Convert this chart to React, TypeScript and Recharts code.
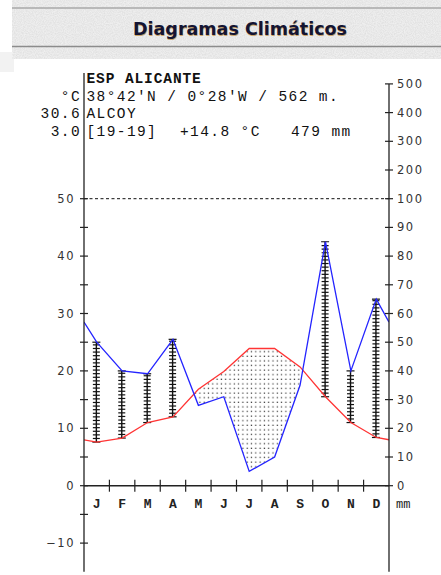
import React from 'react';
import { ComposedChart, Area, Line, Bar, Scatter, XAxis, YAxis, ReferenceLine } from 'recharts';

// Climate normals, Alcoy (Alicante)
const months = ['J', 'F', 'M', 'A', 'M', 'J', 'J', 'A', 'S', 'O', 'N', 'D'];
const temps = [7.6, 8.3, 11.0, 12.0, 16.8, 19.9, 23.9, 23.9, 20.7, 15.5, 11.0, 8.4];
const precip = [50, 40, 39, 51, 28, 31, 5, 10, 35, 85, 40, 65];
// values read where the curves meet the axes (Dec -> Jan wrap)
const edgeTemp = 8.0;
const edgePrecip = 57;

const leftTicks = [-10, -5, 0, 5, 10, 15, 20, 25, 30, 35, 40, 45, 50];
const rightTicks = [0, 5, 10, 15, 20, 25, 30, 35, 40, 45, 50, 55, 60, 65, 70];
const rightLabels = ['0', '10', '20', '30', '40', '50', '60', '70', '80', '90', '100', '200', '300', '400', '500'];
const monthBounds = [1, 2, 3, 4, 5, 6, 7, 8, 9, 10, 11];

const W = 441;
const H = 575;
const PLOT_LEFT = 84;
const PLOT_RIGHT = 389;
const PLOT_TOP = 83.9;
const PLOT_BOTTOM = 571.8;
const AXIS_W = 40;

const axisFont = { fontFamily: '"DejaVu Sans", Verdana, sans-serif', fontSize: 11.5, letterSpacing: 1.5, fill: '#333' };
const monoFont = '"Liberation Mono", "DejaVu Sans Mono", monospace';

// precipitation plotted at 2 mm = 1 °C
const table = [
  { x: 0, t: edgeTemp, p: edgePrecip / 2, humid: false },
  ...months.map((m, i) => ({ x: i + 0.5, t: temps[i], p: precip[i] / 2, humid: precip[i] / 2 > temps[i] })),
  { x: 12, t: edgeTemp, p: edgePrecip / 2, humid: false },
];

const monthPoints = months.map((m, i) => ({ x: i + 0.5, y: 0, label: m }));
const boundPoints = monthBounds.map(b => ({ x: b, y: 0 }));

const LeftTick = (props: any) => {
  const { y, payload } = props;
  const v = payload.value;
  return (
    <g>
      <line x1={PLOT_LEFT - 4} x2={PLOT_LEFT + 4} y1={y} y2={y} stroke="#222" strokeWidth={1.2} />
      {v % 10 === 0 && (
        <text x={PLOT_LEFT - 9} y={y} textAnchor="end" dominantBaseline="central" {...axisFont}>
          {v < 0 ? `\u2212${Math.abs(v)}` : v}
        </text>
      )}
    </g>
  );
};

const RightTick = (props: any) => {
  const { y, payload, index } = props;
  return (
    <g>
      <line x1={PLOT_RIGHT - 4} x2={PLOT_RIGHT + 4} y1={y} y2={y} stroke="#222" strokeWidth={1.2} />
      <text x={PLOT_RIGHT + 8} y={y} textAnchor="start" dominantBaseline="central" {...axisFont}>
        {rightLabels[index] ?? payload.value}
      </text>
    </g>
  );
};

const Ladder = (props: any) => {
  const { x, y, width, height } = props;
  if (height == null || Math.abs(height) < 1) return null;
  const cx = x + width / 2;
  const top = Math.min(y, y + height);
  const bottom = Math.max(y, y + height);
  const rungs = [];
  for (let yy = bottom - 3.6; yy > top + 1.5; yy -= 3.6) {
    rungs.push(<line key={yy} x1={cx - 3.5} x2={cx + 3.5} y1={yy} y2={yy} stroke="#111" strokeWidth={1.2} />);
  }
  return (
    <g>
      <line x1={cx} x2={cx} y1={top} y2={bottom} stroke="#111" strokeWidth={1.4} />
      <line x1={cx - 4} x2={cx + 4} y1={top} y2={top} stroke="#111" strokeWidth={1.2} />
      <line x1={cx - 4} x2={cx + 4} y1={bottom} y2={bottom} stroke="#111" strokeWidth={1.2} />
      {rungs}
    </g>
  );
};

const MonthLabel = (props: any) => {
  const { cx, cy, payload } = props;
  return (
    <text x={cx} y={cy + 22} textAnchor="middle" fontFamily={monoFont} fontSize={13} fontWeight={600} fill="#222">
      {payload.label}
    </text>
  );
};

const MonthBound = (props: any) => {
  const { cx, cy } = props;
  return <line x1={cx} x2={cx} y1={cy - 6} y2={cy + 6} stroke="#222" strokeWidth={1.2} />;
};

export default function App() {
  return (
    <div style={{ position: 'absolute', left: 0, top: 0, width: W, height: H, background: '#fff', overflow: 'hidden' }}>
      <svg width={W} height={H} style={{ position: 'absolute', left: 0, top: 0 }}>
        <defs>
          <filter id="grain" x="0" y="0" width="100%" height="100%">
            <feTurbulence type="fractalNoise" baseFrequency="0.9" numOctaves="2" seed="3" />
            <feColorMatrix type="matrix" values="0 0 0 0 0.55  0 0 0 0 0.55  0 0 0 0 0.55  0 0 0 -1.2 0.9" />
            <feComposite in2="SourceGraphic" operator="in" />
          </filter>
          <pattern id="dots" width="4.3" height="4.6" patternUnits="userSpaceOnUse">
            <rect x="1.5" y="1.5" width="1.2" height="1.2" fill="#333" />
          </pattern>
        </defs>
        <rect x={12} y={0} width={W - 12} height={59} fill="#efefef" />
        <rect x={0} y={52} width={14} height={20} fill="#f2f2f2" />
        <rect x={12} y={0} width={W - 12} height={59} fill="#fff" filter="url(#grain)" opacity={0.5} />
        <line x1={12} x2={W} y1={8} y2={8} stroke="#a8a8a8" strokeWidth={1.5} />
        <line x1={12} x2={W} y1={46.5} y2={46.5} stroke="#8c8c8c" strokeWidth={1.5} />
        <text x={240.5} y={35.5} textAnchor="middle" fontFamily='"DejaVu Sans", Verdana, sans-serif' fontWeight="bold" fontSize={17.5} fill="#c9a46a">
          Diagramas Climáticos
        </text>
        <text x={240} y={35} textAnchor="middle" fontFamily='"DejaVu Sans", Verdana, sans-serif' fontWeight="bold" fontSize={17.5} fill="#141433">
          Diagramas Climáticos
        </text>

        <rect x={14} y={59} width={W - 14} height={H - 59} fill="#fff" />
        <line x1={PLOT_LEFT} x2={PLOT_LEFT} y1={73} y2={PLOT_TOP} stroke="#222" strokeWidth={1.3} />
        <g fontFamily={monoFont} fontSize={14.5} fill="#111">
          <text x={86.5} y={83} fontWeight="bold" letterSpacing={0.9}>ESP ALICANTE</text>
          <text x={86.5} y={100.5} letterSpacing={1.4}>38°42'N / 0°28'W / 562 m.</text>
          <text x={86.5} y={118} letterSpacing={1.4}>ALCOY</text>
          <text x={86.5} y={135.5} letterSpacing={1.4}>[19-19]</text>
          <text x={180} y={135.5} letterSpacing={1.4}>+14.8 °C</text>
          <text x={291} y={135.5} letterSpacing={1.4}>479 mm</text>
          <text x={81} y={100.5} textAnchor="end" letterSpacing={1.4}>°C</text>
          <text x={81} y={118} textAnchor="end" letterSpacing={1.4}>30.6</text>
          <text x={81} y={135.5} textAnchor="end" letterSpacing={1.4}>3.0</text>
        </g>
        <text x={396} y={508} fontFamily={monoFont} fontSize={12} fill="#222">mm</text>
      </svg>

      <div style={{ position: 'absolute', left: 0, top: 0 }}>
        <ComposedChart
          width={W}
          height={H}
          data={table}
          margin={{ top: PLOT_TOP, right: W - PLOT_RIGHT - AXIS_W, bottom: H - PLOT_BOTTOM, left: PLOT_LEFT - AXIS_W }}
        >
          <XAxis dataKey="x" type="number" domain={[0, 12]} hide allowDataOverflow />
          <YAxis
            yAxisId="t"
            type="number"
            domain={[-15, 70]}
            ticks={leftTicks}
            width={AXIS_W}
            allowDataOverflow
            axisLine={{ stroke: '#222', strokeWidth: 1.3 }}
            tickLine={false}
            tick={<LeftTick />}
            interval={0}
          />
          <YAxis
            yAxisId="r"
            orientation="right"
            type="number"
            domain={[-15, 70]}
            ticks={rightTicks}
            width={AXIS_W}
            allowDataOverflow
            axisLine={{ stroke: '#222', strokeWidth: 1.3 }}
            tickLine={false}
            tick={<RightTick />}
            interval={0}
          />
          <Area yAxisId="t" type="linear" dataKey="t" baseValue={0} fill="url(#dots)" fillOpacity={1} stroke="none" isAnimationActive={false} />
          <Area yAxisId="t" type="linear" dataKey="p" baseValue={0} fill="#fff" fillOpacity={1} stroke="none" isAnimationActive={false} />
          <ReferenceLine yAxisId="t" y={50} stroke="#111" strokeDasharray="3 2.5" strokeWidth={1} />
          <ReferenceLine yAxisId="t" y={0} stroke="#222" strokeWidth={1.5} />
          <Bar
            yAxisId="t"
            dataKey={(d: any) => (d.humid ? [d.t, d.p] : [d.t, d.t])}
            barSize={8}
            shape={<Ladder />}
            isAnimationActive={false}
          />
          <Line yAxisId="t" type="linear" dataKey="t" stroke="#ff3434" strokeWidth={1.3} dot={false} isAnimationActive={false} />
          <Line yAxisId="t" type="linear" dataKey="p" stroke="#2424ff" strokeWidth={1.3} dot={false} isAnimationActive={false} />
          <Scatter yAxisId="t" data={boundPoints} dataKey="y" shape={<MonthBound />} isAnimationActive={false} />
          <Scatter yAxisId="t" data={monthPoints} dataKey="y" shape={<MonthLabel />} isAnimationActive={false} />
        </ComposedChart>
      </div>
    </div>
  );
}
